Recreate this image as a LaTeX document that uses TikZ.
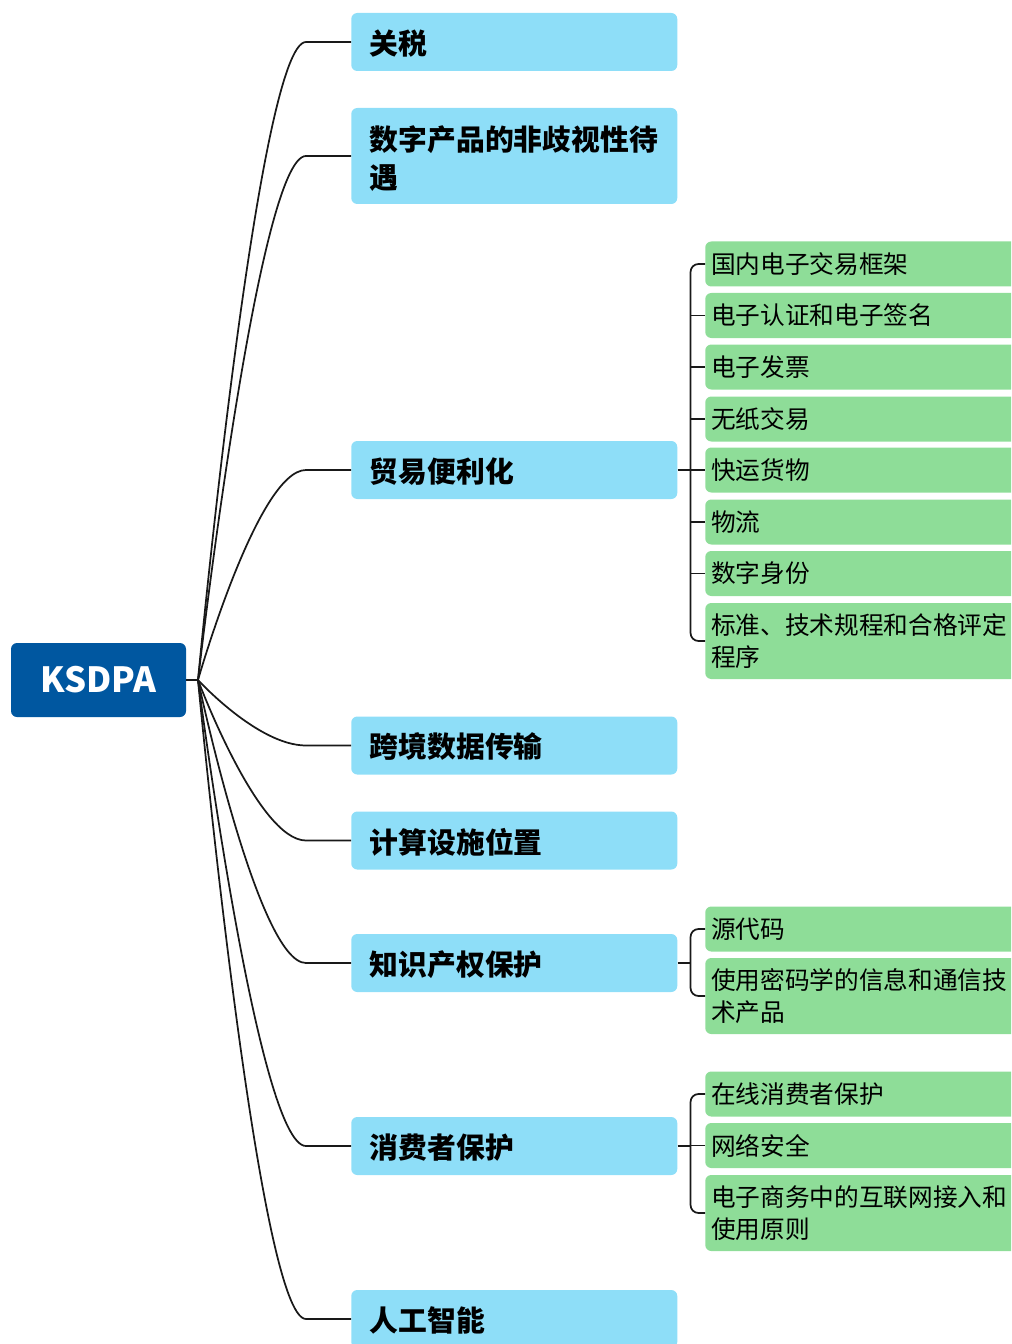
\documentclass[tikz,border=0pt]{standalone}
\usepackage{fontspec}
\newfontfamily\cjk{Noto Sans CJK SC}
\usetikzlibrary{calc}
\definecolor{rootblue}{RGB}{0,87,160}
\definecolor{topicblue}{RGB}{142,222,248}
\definecolor{leafgreen}{RGB}{142,221,152}
\tikzset{
  rootbox/.style={rectangle, rounded corners=4.5pt, fill=rootblue, text=white,
    minimum width=131.25pt, minimum height=55.5pt, font=\cjk\bfseries\fontsize{26pt}{30pt}\selectfont},
  topic/.style={rectangle, rounded corners=4.5pt, fill=topicblue, anchor=west,
    inner xsep=14pt, inner ysep=0pt, text width=216.5pt, align=left, text depth=0pt,
    minimum height=43.5pt, font=\cjk\bfseries\fontsize{21.6pt}{28.5pt}\selectfont},
  topictwo/.style={topic, text depth=26.5pt, minimum height=72pt},
  leaf/.style={rectangle, rounded corners=4.5pt, fill=leafgreen, anchor=west,
    inner xsep=4.5pt, inner ysep=0pt, text width=240pt, align=left,
    minimum height=33.75pt, font=\cjk\fontsize{18.5pt}{24pt}\selectfont},
  leaftwo/.style={leaf, minimum height=57pt},
  link/.style={line width=1.3pt, black!90}
}
\begin{document}
\begin{tikzpicture}[x=0.75pt, y=-0.75pt]
    \clip (0,0) rectangle (1011,1344);
    % root
    \node[rootbox] (ksdpa) at (98.5,680) {KSDPA};
    \coordinate (hub) at (198,680);
    % topics
    \node[topic] (tariff)     at (351,42)    {关税};
    \node[topictwo] (nondisc) at (351,156)   {数字产品的非歧视性待\\遇};
    \node[topic] (trade)      at (351,470)   {贸易便利化};
    \node[topic] (xborder)    at (351,745.5) {跨境数据传输};
    \node[topic] (compute)    at (351,840.5) {计算设施位置};
    \node[topic] (ip)         at (351,963)   {知识产权保护};
    \node[topic] (consumer)   at (351,1146)  {消费者保护};
    \node[topic] (ai)         at (351,1319)  {人工智能};
    % leaves of trade
    \node[leaf] (t1) at (705,264)   {国内电子交易框架};
    \node[leaf] (t2) at (705,315.5) {电子认证和电子签名};
    \node[leaf] (t3) at (705,367)   {电子发票};
    \node[leaf] (t4) at (705,419)   {无纸交易};
    \node[leaf] (t5) at (705,470)   {快运货物};
    \node[leaf] (t6) at (705,522)   {物流};
    \node[leaf] (t7) at (705,573.5) {数字身份};
    \node[leaftwo] (t8) at (705,641) {标准、技术规程和合格评定\\程序};
    % leaves of ip
    \node[leaf] (p1) at (705,929) {源代码};
    \node[leaftwo] (p2) at (705,996) {使用密码学的信息和通信技\\术产品};
    % leaves of consumer
    \node[leaf] (c1) at (705,1094)   {在线消费者保护};
    \node[leaf] (c2) at (705,1145.5) {网络安全};
    \node[leaftwo] (c3) at (705,1213) {电子商务中的互联网接入和\\使用原则};
    % root links
    \draw[link] (ksdpa.east) -- (hub);
    \foreach \t in {tariff,nondisc,trade,xborder,compute,ip,consumer,ai}
        \draw[link] (hub) .. controls (hub) and ($(\t.west)+(-93,0)$) .. ($(\t.west)+(-45,0)$) -- (\t.west);
    % brackets
    \coordinate (tb) at ($(trade.east)+(13,0)$);
    \coordinate (pb) at ($(ip.east)+(13,0)$);
    \coordinate (cb) at ($(consumer.east)+(13,0)$);
    \draw[link] (trade.east) -- (tb);
    \draw[link, rounded corners=6pt] (t1.west) -| (tb) |- (t8.west);
    \foreach \l in {t2,t3,t4,t5,t6,t7}
        \draw[link] (\l.west) -- (\l.west -| tb);
    \draw[link] (ip.east) -- (pb);
    \draw[link, rounded corners=6pt] (p1.west) -| (pb) |- (p2.west);
    \draw[link] (consumer.east) -- (cb);
    \draw[link, rounded corners=6pt] (c1.west) -| (cb) |- (c3.west);
    \draw[link] (c2.west) -- (c2.west -| cb);
\end{tikzpicture}
\end{document}
